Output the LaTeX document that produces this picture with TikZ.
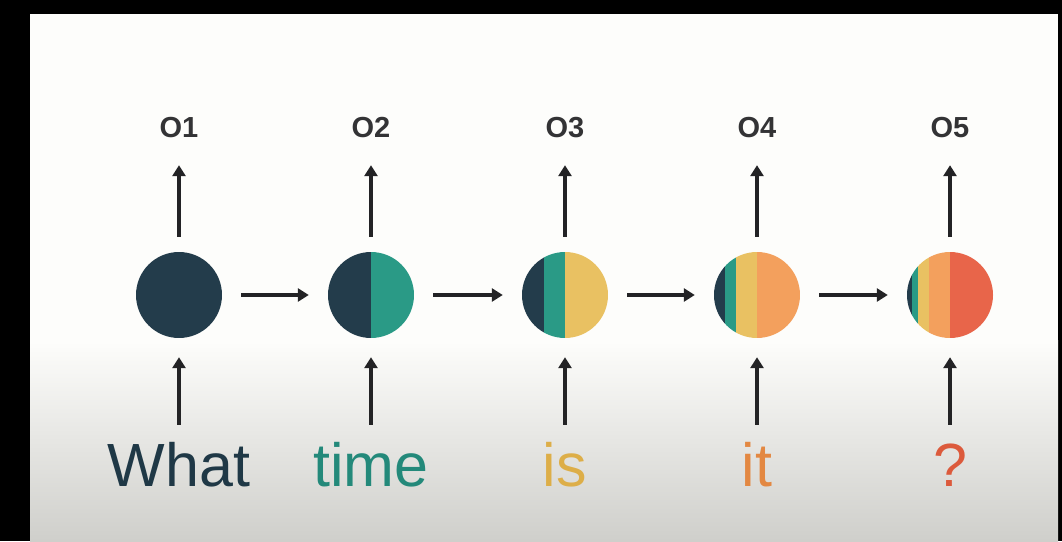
\documentclass[tikz,border=0pt]{standalone}
\usepackage{fontspec}
\setmainfont{Liberation Sans}
\usetikzlibrary{arrows.meta}

% palette
\definecolor{cdark}{HTML}{233C4B}
\definecolor{cteal}{HTML}{2A9A86}
\definecolor{cyellow}{HTML}{E9C162}
\definecolor{corange}{HTML}{F3A05D}
\definecolor{cred}{HTML}{E8654A}
\definecolor{tdark}{HTML}{1F3846}
\definecolor{tteal}{HTML}{23897A}
\definecolor{tyellow}{HTML}{DDAE48}
\definecolor{torange}{HTML}{E38842}
\definecolor{tred}{HTML}{DC5A3C}
\definecolor{arrowc}{HTML}{232325}
\definecolor{labelc}{HTML}{333335}
\definecolor{paper}{HTML}{FDFDFB}
\definecolor{paperlow}{HTML}{CFCFCB}

\tikzset{
  cell/.style={circle, minimum size=86pt, inner sep=0pt},
  arr/.style={line width=3.8pt, draw=arrowc,
    -{Triangle[length=11pt,width=13pt]}},
  outlabel/.style={inner sep=0pt, anchor=base, text height=21pt, text depth=0pt,
    font=\fontsize{29}{29}\selectfont\bfseries, text=labelc},
  word/.style={inner sep=0pt, anchor=base, text height=43pt, text depth=0pt,
    font=\fontsize{61}{61}\selectfont},
}

\begin{document}
\begin{tikzpicture}[x=1pt,y=1pt]
\useasboundingbox (0,0) rectangle (1062,541);

% frame and backdrop
\fill[black] (0,0) rectangle (1062,541);
\fill[paper] (30,0) rectangle (1058,527);
\shade[bottom color=paperlow, top color=paper] (30,0) rectangle (1058,200);

% recurrent cells
\foreach \i/\x in {1/179,2/371,3/565,4/757,5/950}
  \node[cell] (c\i) at (\x,246) {};

% colour strips inside the cells (each step halves the older history)
\def\R{43}
\begin{scope}
  \clip (c1.center) circle (\R);
  \fill[cdark] (179-\R,203) rectangle (179+\R,289);
\end{scope}
\begin{scope}
  \clip (c2.center) circle (\R);
  \fill[cdark] (371-\R,203) rectangle (371,289);
  \fill[cteal] (371,203) rectangle (371+\R,289);
\end{scope}
\begin{scope}
  \clip (c3.center) circle (\R);
  \fill[cdark] (565-\R,203) rectangle (565-\R/2,289);
  \fill[cteal] (565-\R/2,203) rectangle (565,289);
  \fill[cyellow] (565,203) rectangle (565+\R,289);
\end{scope}
\begin{scope}
  \clip (c4.center) circle (\R);
  \fill[cdark] (757-\R,203) rectangle (757-3*\R/4,289);
  \fill[cteal] (757-3*\R/4,203) rectangle (757-\R/2,289);
  \fill[cyellow] (757-\R/2,203) rectangle (757,289);
  \fill[corange] (757,203) rectangle (757+\R,289);
\end{scope}
\begin{scope}
  \clip (c5.center) circle (\R);
  \fill[cdark] (950-\R,203) rectangle (950-7*\R/8,289);
  \fill[cteal] (950-7*\R/8,203) rectangle (950-3*\R/4,289);
  \fill[cyellow] (950-3*\R/4,203) rectangle (950-\R/2,289);
  \fill[corange] (950-\R/2,203) rectangle (950,289);
  \fill[cred] (950,203) rectangle (950+\R+1,289);
\end{scope}

% outputs
\foreach \i/\x in {1/179,2/371,3/565,4/757,5/950}
  \node[outlabel] (o\i) at (\x,403) {O\i};

% input words
\node[word, text=tdark]   (w1) at (179,55) {What};
\node[word, text=tteal]   (w2) at (371,55) {time};
\node[word, text=tyellow] (w3) at (565,55) {is};
\node[word, text=torange] (w4) at (757,55) {it};
\node[word, text=tred]    (w5) at (950,55) {?};

% connectors
\foreach \i in {1,...,5} {
  \draw[arr, shorten <=15pt, shorten >=27pt] (c\i.north) -- (o\i.south);
  \draw[arr, shorten <=18pt, shorten >=19pt] (w\i.north) -- (c\i.south);
}
\foreach \i/\j in {1/2,2/3,3/4,4/5}
  \draw[arr, shorten <=19pt, shorten >=19pt] (c\i.east) -- (c\j.west);
\end{tikzpicture}
\end{document}
